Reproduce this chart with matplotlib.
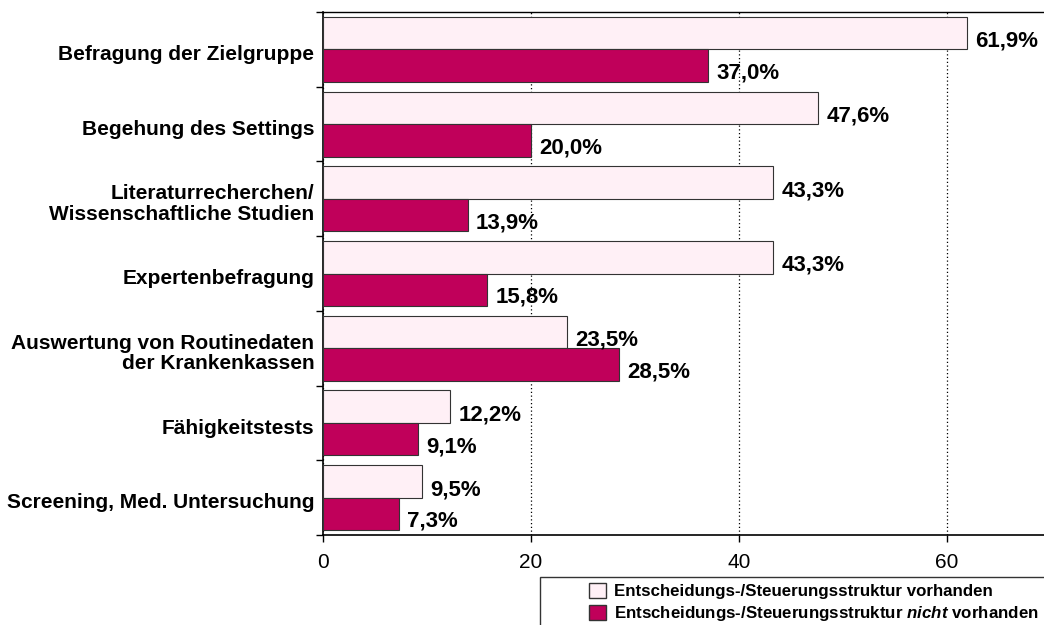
import numpy as np
import matplotlib.pyplot as plt
from matplotlib.patches import Patch, Rectangle

plt.rcParams['font.family'] = ['Liberation Sans', 'DejaVu Sans']
plt.rcParams['mathtext.fontset'] = 'custom'
plt.rcParams['mathtext.rm'] = 'Liberation Sans:bold'
plt.rcParams['mathtext.it'] = 'Liberation Sans:italic:bold'

# Daten
kategorien = ["Befragung der Zielgruppe", "Begehung des Settings",
              "Literaturrecherchen/\nWissenschaftliche Studien", "Expertenbefragung",
              "Auswertung von Routinedaten\nder Krankenkassen", "Fähigkeitstests",
              "Screening, Med. Untersuchung"]
vorhanden = [61.9, 47.6, 43.3, 43.3, 23.5, 12.2, 9.5]
nicht_vorhanden = [37.0, 20.0, 13.9, 15.8, 28.5, 9.1, 7.3]
x_ticks = [0, 20, 40, 60]

FARBE_HELL = "#FFF0F6"
FARBE_DUNKEL = "#C0005A"

W, H = 1044, 625
fig = plt.figure(figsize=(W / 100, H / 100), dpi=100)
ax = fig.add_axes([323 / W, 1 - 535 / H, (W - 323) / W, 523 / H])

n = len(kategorien)
pos = np.arange(n)
h = 0.435
ax.barh(pos - h / 2, vorhanden, height=h, color=FARBE_HELL, edgecolor="#333333", linewidth=0.8, zorder=3)
ax.barh(pos + h / 2, nicht_vorhanden, height=h, color=FARBE_DUNKEL, edgecolor="#333333", linewidth=0.8, zorder=3)

# Wertebeschriftung
for i in range(n):
    ax.text(vorhanden[i] + 0.8, pos[i] - h / 2 + 0.11, f"{vorhanden[i]:.1f}%".replace(".", ","),
            va="center", ha="left", fontsize=16, fontweight="bold", zorder=4)
    ax.text(nicht_vorhanden[i] + 0.8, pos[i] + h / 2 + 0.1, f"{nicht_vorhanden[i]:.1f}%".replace(".", ","),
            va="center", ha="left", fontsize=16, fontweight="bold", zorder=4)

ax.set_ylim(n - 0.5, -0.5)
ax.set_xlim(0, (W - 323) / 10.4)
ax.set_xticks(x_ticks)
ax.set_xticklabels([str(t) for t in x_ticks], fontsize=15)
ax.tick_params(axis="x", length=5, width=1, pad=8)

# Kategorien: Ticks an den Grenzen, Labels in der Mitte
ax.set_yticks(np.arange(n + 1) - 0.5)
ax.set_yticklabels([])
ax.tick_params(axis="y", length=5, width=1)
for i, k in enumerate(kategorien):
    ax.text(-0.012, pos[i] + 0.07, k, transform=ax.get_yaxis_transform(), ha="right", va="center",
            fontsize=15, fontweight="bold", linespacing=1.1)

ax.grid(axis="x", linestyle=(0, (1, 2)), color="black", linewidth=0.9, zorder=0)
ax.spines["left"].set_linewidth(1.2)
ax.spines["bottom"].set_linewidth(1.2)
ax.spines["top"].set_linewidth(1.0)
ax.spines["right"].set_visible(False)

# Legendenrahmen (läuft über den Bildrand hinaus)
fig.patches.append(Rectangle((540 / W, -0.1), 0.6, 0.1 + 1 - 577 / H, transform=fig.transFigure,
                             facecolor="white", edgecolor="#333333", linewidth=1.0, zorder=5))

handles = [Patch(facecolor=FARBE_HELL, edgecolor="#333333", label="Entscheidungs-/Steuerungsstruktur vorhanden"),
           Patch(facecolor=FARBE_DUNKEL, edgecolor="#333333",
                 label="Entscheidungs-/Steuerungsstruktur $\\it{nicht}$ vorhanden")]
leg = fig.legend(handles=handles, loc="upper left", bbox_to_anchor=(589 / W, 1 - 583 / H),
                 frameon=False, fontsize=12.2,
                 handlelength=1.0, handleheight=0.95, handletextpad=0.45, borderpad=0,
                 borderaxespad=0, labelspacing=0.3)
leg.set_zorder(6)
for t in leg.get_texts():
    t.set_fontweight("bold")

fig.savefig("out.png", dpi=100)
